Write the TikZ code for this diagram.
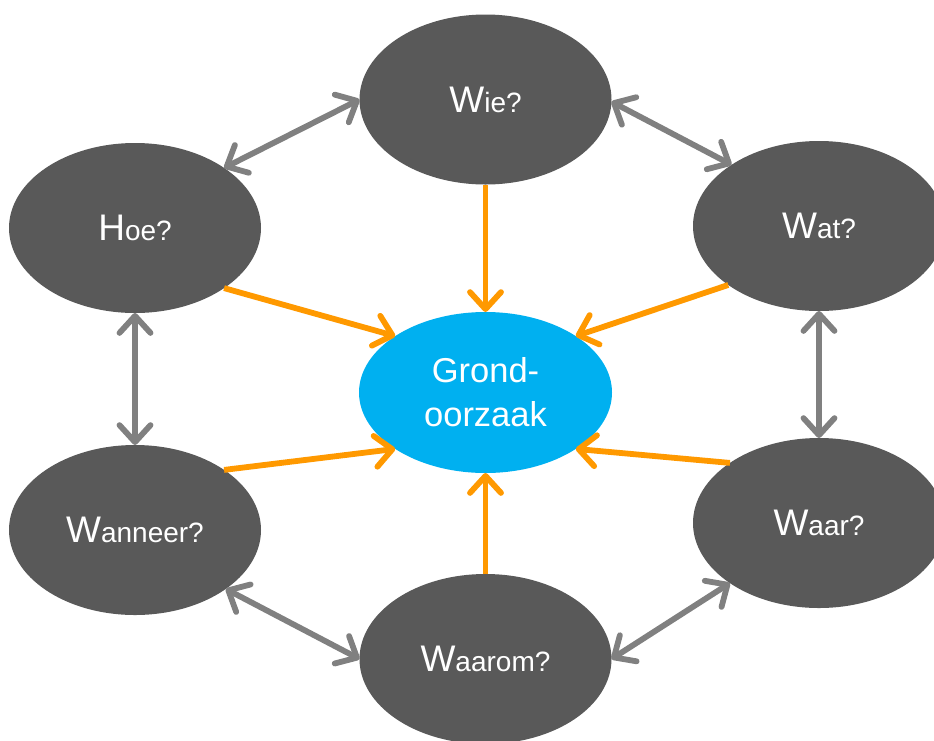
\documentclass[tikz,border=0pt]{standalone}
\usepackage{fontspec}
\setmainfont{Liberation Sans}
\usetikzlibrary{shapes.geometric,arrows.meta}
\definecolor{darkg}{HTML}{595959}
\definecolor{arrg}{HTML}{808080}
\definecolor{orng}{HTML}{FF9900}
\definecolor{blu}{HTML}{00B0F0}
\newcommand{\qlabel}[2]{{\fontsize{37}{40}\selectfont #1}{\fontsize{28}{32}\selectfont #2}}
\begin{document}
\begin{tikzpicture}[x=1pt,y=-1pt,
  qnode/.style={ellipse, fill=darkg, text=white, minimum width=252pt, minimum height=170pt, inner sep=0pt, outer sep=0pt},
  corenode/.style={ellipse, fill=blu, text=white, minimum width=253pt, minimum height=161pt, inner sep=0pt, outer sep=0pt, align=center, font=\fontsize{34.5}{44}\selectfont},
  barb/.tip={Straight Barb[length=17pt,width=31pt,round]},
  oarr/.style={draw=orng, line width=5.8pt, -barb},
  garr/.style={draw=arrg, line width=5.8pt, barb-barb},
]
\useasboundingbox (0,0) rectangle (934,740);
\clip (0,0) rectangle (934,740);
\node[qnode] (wie) at (485.5,99.5) {\qlabel{W}{ie?}};
\node[qnode] (hoe) at (135,228) {\qlabel{H}{oe?}};
\node[qnode] (wat) at (819,226) {\qlabel{W}{at?}};
\node[corenode] (grond) at (485.5,392.5) {Grond-\\oorzaak};
\node[qnode] (wanneer) at (135,530) {\qlabel{W}{anneer?}};
\node[qnode] (waar) at (819,523) {\qlabel{W}{aar?}};
\node[qnode] (waarom) at (485.5,659) {\qlabel{W}{aarom?}};
% orange arrows
\draw[oarr] (wie.south) -- (grond.north);
\draw[oarr] (waarom.north) -- (grond.south);
\draw[oarr] (hoe.-34.6) -- (grond.148.3);
\draw[oarr] (wat.213.7) -- (grond.32.7);
\draw[oarr] (wanneer.34) -- (grond.212.1);
\draw[oarr] (waar.146) -- (grond.-32.3);
% gray arrows
\draw[garr] (hoe.34) -- (wie.180);
\draw[garr] (wie.-1) -- (wat.145.7);
\draw[garr] (hoe.south) -- (wanneer.north);
\draw[garr] (wat.south) -- (waar.north);
\draw[garr] (wanneer.-33.7) -- (waarom.180);
\draw[garr] (waarom.0) -- (waar.214.7);
\end{tikzpicture}
\end{document}
